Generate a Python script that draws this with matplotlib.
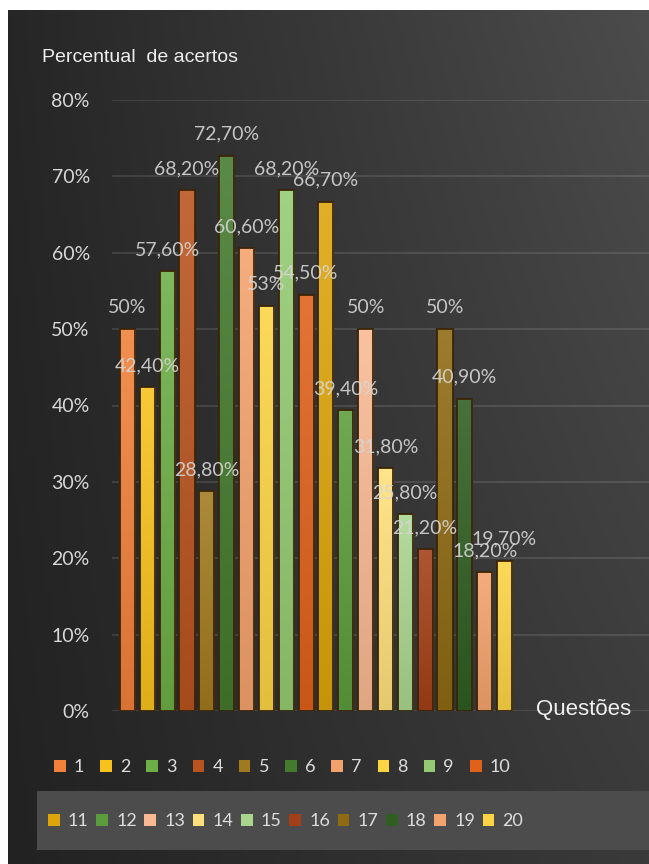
import numpy as np
import matplotlib.pyplot as plt
from matplotlib.patches import Patch, Rectangle
from matplotlib.colors import LinearSegmentedColormap, to_rgb
from matplotlib.ticker import FuncFormatter

# dados (percentual de acertos por questão)
questoes = [str(i) for i in range(1, 21)]
acertos = [50, 42.4, 57.6, 68.2, 28.8, 72.7, 60.6, 53, 68.2, 54.5,
           66.7, 39.4, 50, 31.8, 25.8, 21.2, 50, 40.9, 18.2, 19.7]
rotulos = ["50%", "42,40%", "57,60%", "68,20%", "28,80%", "72,70%", "60,60%", "53%",
           "68,20%", "54,50%", "66,70%", "39,40%", "50%", "31,80%", "25,80%", "21,20%",
           "50%", "40,90%", "18,20%", "19,70%"]
cores = ["#F0803A", "#F7C21C", "#6DAE46", "#B9531F", "#A07A1E", "#447A2E", "#F4A26C",
         "#FDD443", "#94CB72", "#DF611A", "#DDA50A", "#5C9C3C", "#F8B993", "#FFE07C",
         "#A9D68E", "#A33F18", "#8E6A12", "#2F5D22", "#F4A26C", "#FDD443"]
ticks_y = [0, 10, 20, 30, 40, 50, 60, 70, 80]

W, H = 649, 864
fig = plt.figure(figsize=(W / 100, H / 100), dpi=100)
fig.patch.set_facecolor("white")

# fundo escuro com degradê
bg = fig.add_axes([8 / W, 0, 1 - 8 / W, 1 - 10 / H])
xx, yy = np.meshgrid(np.linspace(0, 1, 200), np.linspace(0, 1, 200))
tl, tr, bl, br = 38, 76, 34, 58
g = (tl * (1 - xx) * (1 - yy) + tr * xx * (1 - yy) + bl * (1 - xx) * yy + br * xx * yy) / 255
bg.imshow(np.dstack([g, g, g]), aspect="auto", extent=[0, 1, 1, 0])
bg.set_axis_off()

# caixa da segunda linha da legenda
fig.patches.append(Rectangle((37 / W, 1 - 850 / H), 1 - 37 / W, 59 / H,
                             transform=fig.transFigure, facecolor="#4c4c4c",
                             edgecolor="none", zorder=1))

ax = fig.add_axes([112 / W, 1 - 711 / H, 1 - 112 / W, (711 - 100) / H])
ax.set_facecolor("none")
x = np.arange(len(acertos))
bars = ax.bar(x, acertos, width=0.76, color=cores, edgecolor="#3a2508",
              linewidth=1.3, zorder=3)

# leve degradê vertical em cada barra
grad = np.linspace(0, 1, 64).reshape(-1, 1)
for b, c in zip(bars, cores):
    base = np.array(to_rgb(c))
    cm = LinearSegmentedColormap.from_list("b", [base * 0.9, base + (1 - base) * 0.12])
    im = ax.imshow(grad, cmap=cm, origin="lower", aspect="auto", zorder=3.2,
                   extent=[b.get_x(), b.get_x() + b.get_width(), 0, b.get_height()])
    im.set_clip_path(b)
    ax.add_patch(Rectangle((b.get_x(), 0), b.get_width(), b.get_height(),
                           facecolor="none", edgecolor="#3a2508", linewidth=1.3, zorder=3.4))

for xi, v, r in zip(x, acertos, rotulos):
    ax.text(xi, v + 2.8, r, ha="center", va="center", fontsize=14, family="Lato",
            color="#d6d6d6", alpha=0.9, zorder=4)

ax.set_xlim(-0.78, 26.28)
ax.set_ylim(0, 80)
ax.set_yticks(ticks_y)
ax.yaxis.set_major_formatter(FuncFormatter(lambda v, p: f"{v:.0f}%"))
ax.tick_params(axis="y", length=0, pad=16, labelsize=14, labelcolor="#d8d8d8")
for lab in ax.get_yticklabels():
    lab.set_family("Lato")
ax.set_xticks([])
ax.grid(axis="y", color="white", alpha=0.13, linewidth=1.2, zorder=0)
for s in ax.spines.values():
    s.set_visible(False)

fig.text(42 / W, 1 - 57 / H, "Percentual  de acertos", fontsize=14,
         family=["Liberation Sans Narrow", "Liberation Sans"], color="#eeeeee",
         ha="left", va="center")
fig.text(584 / W, 1 - 710 / H, "Questões", fontsize=16,
         family=["Liberation Sans Narrow", "Liberation Sans"], color="#f0f0f0",
         ha="center", va="center")

handles = [Patch(facecolor=c, edgecolor="none") for c in cores]
leg_kw = dict(frameon=False, ncol=10, loc="center left", borderpad=0, borderaxespad=0,
              handlelength=0.65, handleheight=0.65, handletextpad=0.45,
              prop={"family": "Lato", "size": 13}, labelcolor="#dddddd")
leg1 = fig.legend(handles[:10], questoes[:10], bbox_to_anchor=(54 / W, 1 - 767 / H),
                  columnspacing=0.88, **leg_kw)
leg2 = fig.legend(handles[10:], questoes[10:], bbox_to_anchor=(48 / W, 1 - 821 / H),
                  columnspacing=0.42, **leg_kw)
leg2.set_zorder(3)

fig.savefig("out.png", dpi=100, facecolor=fig.get_facecolor())
